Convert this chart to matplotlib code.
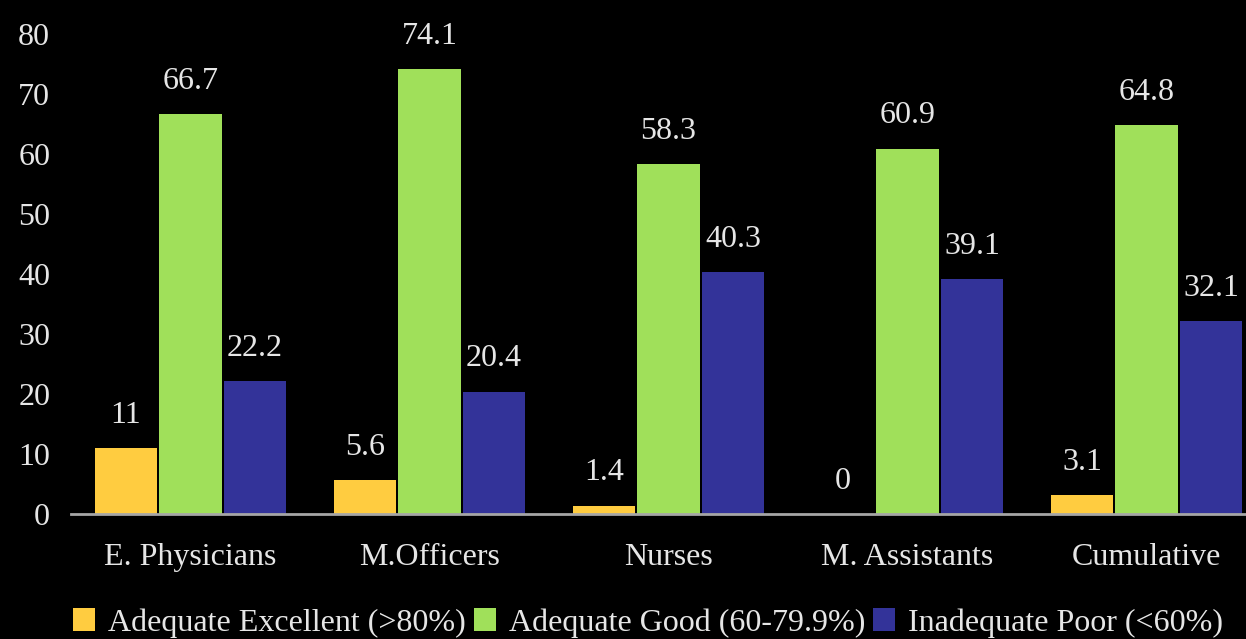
import matplotlib
matplotlib.use("Agg")
import matplotlib.pyplot as plt
import numpy as np
from matplotlib.patches import Patch

categories = ["E. Physicians", "M.Officers", "Nurses", "M. Assistants", "Cumulative"]
excellent = [11, 5.6, 1.4, 0, 3.1]
good = [66.7, 74.1, 58.3, 60.9, 64.8]
poor = [22.2, 20.4, 40.3, 39.1, 32.1]
series_names = ["Adequate Excellent (>80%)", "Adequate Good (60-79.9%)", "Inadequate Poor (<60%)"]
yticks = [0, 10, 20, 30, 40, 50, 60, 70, 80]

colors = ["#FFCC40", "#A0E05A", "#333399"]
txt = "#E6E6E6"

plt.rcParams['font.family'] = ['Liberation Serif', 'DejaVu Serif']

fig = plt.figure(figsize=(12.46, 6.39), dpi=100, facecolor="black")
ax = fig.add_axes([71/1246, 125/639, 1195/1246, 480/639])
ax.set_facecolor("black")

x = np.arange(len(categories))
w = 0.26
off = 0.27
for vals, c, dx in zip([excellent, good, poor], colors, [-off, 0, off]):
    ax.bar(x + dx, vals, width=w, color=c, edgecolor="none", zorder=2)
    for xi, v in zip(x + dx, vals):
        ax.annotate(f"{v:g}", (xi, v), xytext=(0, 23.5), textcoords="offset points",
                    ha="center", va="center", color=txt, fontsize=23)

ax.set_xlim(-0.5, len(categories) - 0.5)
ax.set_ylim(0, 80)
ax.set_yticks(yticks)
ax.set_xticks(x)
ax.set_xticklabels(categories)
ax.tick_params(axis="both", length=0, colors=txt, labelsize=23)
ax.tick_params(axis="y", pad=15)
ax.tick_params(axis="x", pad=21)
for s in ["top", "right", "left"]:
    ax.spines[s].set_visible(False)
ax.spines["bottom"].set_color("#A6A6A6")
ax.spines["bottom"].set_linewidth(2)
ax.spines["bottom"].set_zorder(3)

handles = [Patch(facecolor=c, edgecolor="none") for c in colors]
leg = fig.legend(handles, series_names, loc="lower center", bbox_to_anchor=(0.52, -0.043),
                 ncol=3, frameon=False, fontsize=23, handlelength=0.7, handleheight=0.7,
                 handletextpad=0.4, columnspacing=0.25)
for t in leg.get_texts():
    t.set_color(txt)

fig.savefig("out.png", dpi=100, facecolor="black")
